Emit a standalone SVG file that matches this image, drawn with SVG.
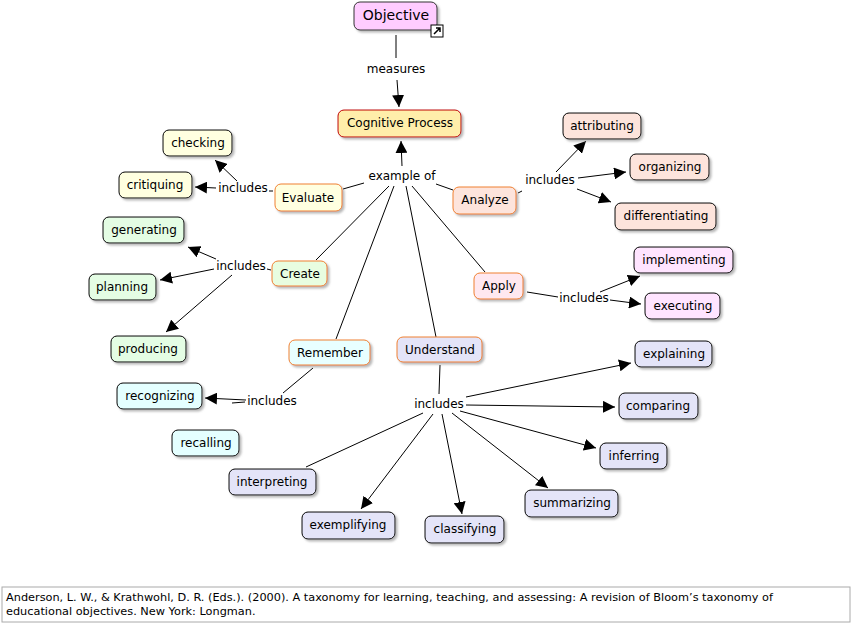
<svg xmlns="http://www.w3.org/2000/svg" width="856" height="628" viewBox="0 0 856 628">
<defs>
<marker id="a" viewBox="0 0 10 10" refX="10" refY="5" markerWidth="12" markerHeight="12" markerUnits="userSpaceOnUse" orient="auto"><path d="M0,0L10,5L0,10z" fill="#000"/></marker>
<filter id="s" x="-10%" y="-10%" width="130%" height="140%"><feDropShadow dx="2" dy="2" stdDeviation="1" flood-color="#888" flood-opacity="0.6"/></filter>
<style>
text{font-family:"DejaVu Sans",Verdana,sans-serif;font-size:12px;fill:#000;text-anchor:middle;dominant-baseline:central}
rect{filter:url(#s)}
.c{stroke:#f08030;stroke-width:1}
.l{stroke:#000;stroke-width:1}
.lk line{stroke:#000;stroke-width:1}
.lab{fill:#fff}
</style>
</defs>
<rect x="0" y="0" width="856" height="628" fill="#fff" style="filter:none"/>
<g class="lk">
<line x1="396" y1="35" x2="396" y2="58"/><line x1="397" y1="80" x2="399" y2="107" marker-end="url(#a)"/>
<line x1="402" y1="166" x2="401" y2="141" marker-end="url(#a)"/>
<line x1="364" y1="183" x2="343" y2="189"/><line x1="436" y1="184" x2="453" y2="190"/>
<line x1="389" y1="186" x2="316" y2="260"/><line x1="394" y1="186" x2="336" y2="339"/>
<line x1="406" y1="186" x2="436" y2="337"/><line x1="412" y1="186" x2="485" y2="272"/>
<line x1="273" y1="191" x2="269" y2="191"/><line x1="237" y1="181" x2="215" y2="160" marker-end="url(#a)"/><line x1="216" y1="188" x2="195" y2="187" marker-end="url(#a)"/>
<line x1="271" y1="270" x2="267" y2="269"/><line x1="216" y1="259" x2="188" y2="247" marker-end="url(#a)"/><line x1="214" y1="269" x2="160" y2="280" marker-end="url(#a)"/><line x1="232" y1="275" x2="166" y2="332" marker-end="url(#a)"/>
<line x1="522" y1="191" x2="518" y2="193"/><line x1="556" y1="172" x2="586" y2="141" marker-end="url(#a)"/><line x1="578" y1="178" x2="626" y2="172" marker-end="url(#a)"/><line x1="577" y1="189" x2="611" y2="202" marker-end="url(#a)"/>
<line x1="527" y1="292" x2="558" y2="297"/><line x1="600" y1="292" x2="640" y2="276" marker-end="url(#a)"/><line x1="610" y1="300" x2="641" y2="304" marker-end="url(#a)"/>
<line x1="313" y1="368" x2="283" y2="393"/><line x1="246" y1="400" x2="205" y2="398" marker-end="url(#a)"/><line x1="245" y1="402" x2="232" y2="403"/>
<line x1="440" y1="365" x2="439" y2="394"/>
<line x1="466" y1="397" x2="631" y2="363" marker-end="url(#a)"/>
<line x1="466" y1="405" x2="615" y2="407" marker-end="url(#a)"/>
<line x1="460" y1="411" x2="596" y2="448" marker-end="url(#a)"/>
<line x1="452" y1="413" x2="548" y2="488" marker-end="url(#a)"/>
<line x1="442" y1="414" x2="462" y2="514" marker-end="url(#a)"/>
<line x1="433" y1="414" x2="361" y2="509" marker-end="url(#a)"/>
<line x1="423" y1="413" x2="306" y2="467"/>
</g>
<g id="labels">
<text x="396" y="69">measures</text>
<text x="402" y="176">example of</text>
<text x="243" y="188">includes</text>
<text x="241" y="266">includes</text>
<text x="550" y="180">includes</text>
<text x="584" y="298">includes</text>
<text x="272" y="401">includes</text>
<text x="439" y="404">includes</text>
</g>
<g id="objective"><rect x="354" y="2" width="83" height="28" rx="6" fill="#ffccff" stroke="#333"/><text x="396" y="15" style="font-size:14px">Objective</text>
<rect x="431" y="25" width="12" height="12" fill="#fff" stroke="#000" style="filter:none"/><path d="M434,34L440,28M436,28H440V32" stroke="#000" stroke-width="1.5" fill="none"/></g>
<g id="cog"><rect x="338" y="110" width="123" height="27" rx="6" fill="#ffeeaa" stroke="#c00000"/><text x="400" y="123">Cognitive Process</text></g>
<g id="evaluate"><rect x="275" y="184" width="67" height="27" rx="6" fill="#ffffe0" class="c"/><text x="308" y="198">Evaluate</text></g>
<g id="analyze"><rect x="453" y="187" width="63" height="27" rx="6" fill="#fde4dc" class="c"/><text x="485" y="200">Analyze</text></g>
<g id="create"><rect x="272" y="261" width="55" height="25" rx="6" fill="#e8fde0" class="c"/><text x="300" y="274">Create</text></g>
<g id="apply"><rect x="474" y="273" width="49" height="26" rx="6" fill="#ffe8f0" class="c"/><text x="499" y="286">Apply</text></g>
<g id="remember"><rect x="289" y="340" width="81" height="25" rx="6" fill="#e8ffff" class="c"/><text x="330" y="353">Remember</text></g>
<g id="understand"><rect x="397" y="337" width="85" height="25" rx="6" fill="#e4e4f8" class="c"/><text x="440" y="350">Understand</text></g>
<g id="checking"><rect x="163" y="130" width="69" height="26" rx="6" fill="#ffffe0" class="l"/><text x="198" y="143">checking</text></g>
<g id="critiquing"><rect x="119" y="172" width="73" height="26" rx="6" fill="#ffffe0" class="l"/><text x="155" y="185">critiquing</text></g>
<g id="generating"><rect x="103" y="217" width="81" height="26" rx="6" fill="#e4fde4" class="l"/><text x="144" y="230">generating</text></g>
<g id="planning"><rect x="89" y="274" width="67" height="26" rx="6" fill="#e4fde4" class="l"/><text x="122" y="287">planning</text></g>
<g id="producing"><rect x="111" y="336" width="75" height="26" rx="6" fill="#e4fde4" class="l"/><text x="148" y="349">producing</text></g>
<g id="recognizing"><rect x="117" y="383" width="85" height="26" rx="6" fill="#e4ffff" class="l"/><text x="160" y="396">recognizing</text></g>
<g id="recalling"><rect x="172" y="430" width="67" height="26" rx="6" fill="#e4ffff" class="l"/><text x="206" y="443">recalling</text></g>
<g id="attributing"><rect x="563" y="113" width="78" height="26" rx="6" fill="#fde4dc" class="l"/><text x="602" y="126">attributing</text></g>
<g id="organizing"><rect x="630" y="154" width="79" height="26" rx="6" fill="#fde4dc" class="l"/><text x="670" y="167">organizing</text></g>
<g id="differentiating"><rect x="615" y="203" width="101" height="27" rx="6" fill="#fde4dc" class="l"/><text x="666" y="216">differentiating</text></g>
<g id="implementing"><rect x="634" y="247" width="99" height="26" rx="6" fill="#ffe4ff" class="l"/><text x="684" y="260">implementing</text></g>
<g id="executing"><rect x="645" y="293" width="75" height="26" rx="6" fill="#ffe4ff" class="l"/><text x="683" y="306">executing</text></g>
<g id="explaining"><rect x="635" y="341" width="77" height="26" rx="6" fill="#e4e4f8" class="l"/><text x="674" y="354">explaining</text></g>
<g id="comparing"><rect x="619" y="393" width="79" height="26" rx="6" fill="#e4e4f8" class="l"/><text x="658" y="406">comparing</text></g>
<g id="inferring"><rect x="600" y="443" width="67" height="26" rx="6" fill="#e4e4f8" class="l"/><text x="634" y="456">inferring</text></g>
<g id="summarizing"><rect x="525" y="490" width="93" height="27" rx="6" fill="#e4e4f8" class="l"/><text x="572" y="503">summarizing</text></g>
<g id="classifying"><rect x="425" y="516" width="79" height="27" rx="6" fill="#e4e4f8" class="l"/><text x="465" y="529">classifying</text></g>
<g id="exemplifying"><rect x="302" y="512" width="93" height="27" rx="6" fill="#e4e4f8" class="l"/><text x="348" y="525">exemplifying</text></g>
<g id="interpreting"><rect x="229" y="469" width="87" height="26" rx="6" fill="#e4e4f8" class="l"/><text x="272" y="482">interpreting</text></g>
<g id="citation"><rect x="2" y="587" width="848" height="35" fill="#fff" stroke="#aaa" style="filter:none"/>
<text x="6" y="597" style="text-anchor:start;font-size:11.3px">Anderson, L. W., &amp; Krathwohl, D. R. (Eds.). (2000). A taxonomy for learning, teaching, and assessing: A revision of Bloom’s taxonomy of</text>
<text x="6" y="611" style="text-anchor:start;font-size:11.3px">educational objectives. New York: Longman.</text></g>
</svg>
